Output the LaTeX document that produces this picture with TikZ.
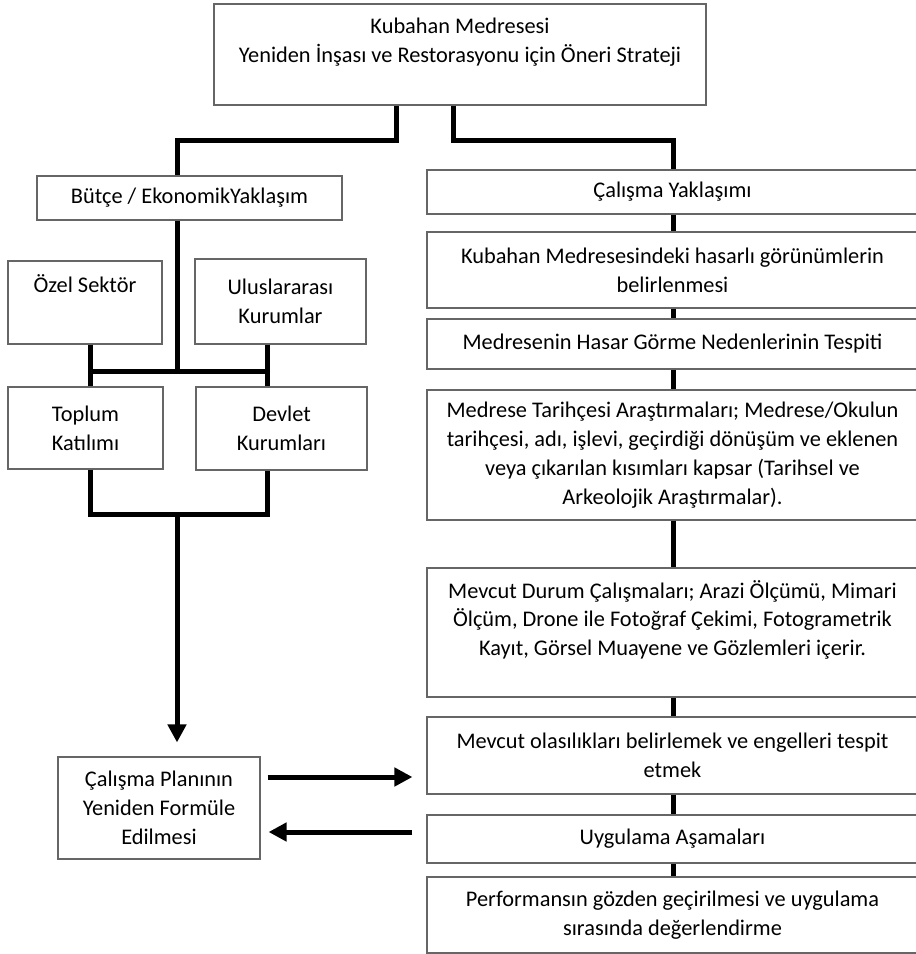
\documentclass[tikz,border=0pt]{standalone}
\usepackage{fontspec}
\setmainfont{Carlito}
\usetikzlibrary{arrows.meta}

\newcommand\boxfont{\fontsize{15.9}{20.6}\selectfont\lineskiplimit=-20pt\relax}

\tikzset{
  box/.style={draw=black!60, line width=0.8pt, align=center, inner sep=2pt,
    font=\boxfont},
  col/.style={box, minimum width=122.75mm},
  link/.style={line width=1.25mm},
  flow/.style={line width=1.25mm, -{Triangle[length=4.5mm,width=4.5mm]}},
}

\begin{document}
\begin{tikzpicture}[x=0.25mm, y=-0.25mm]
  \path[use as bounding box, clip] (0,0) rectangle (916,954);

  % title
  \node at (460,54.5) [box, minimum width=123mm, minimum height=25.25mm] (top) {Kubahan Medresesi\\Yeniden İnşası ve Restorasyonu için Öneri Strateji\\\mbox{}};

  % left side: budget
  \node at (189.5,198) [box, minimum width=76.25mm, minimum height=11mm] (butce) {Bütçe / EkonomikYaklaşım};
  \node at (85,302.5) [box, minimum width=38.5mm, minimum height=20.75mm] (ozel) {Özel Sektör\\[7pt]\mbox{}};
  \node at (280.5,301.5) [box, minimum width=42.75mm, minimum height=21.25mm] (ulus) {Uluslararası\\Kurumlar};
  \node at (85.5,428) [box, minimum width=38.75mm, minimum height=20.5mm] (toplum) {Toplum\\Katılımı};
  \node at (281.5,428.5) [box, minimum width=42.75mm, minimum height=20.75mm] (devlet) {Devlet\\Kurumları};
  \node at (159,808) [box, minimum width=50.5mm, minimum height=25.5mm] (plan) {Çalışma Planının\\Yeniden Formüle\\Edilmesi};

  % right side: work approach
  \node at (672.5,192) [col, minimum height=11mm] (yak) {Çalışma Yaklaşımı};
  \node at (672.5,270) [col, minimum height=19mm] (hasar) {Kubahan Medresesindeki hasarlı görünümlerin\\belirlenmesi};
  \node at (672.5,344) [col, minimum height=12.5mm] (neden) {Medresenin Hasar Görme Nedenlerinin Tespiti};
  \node at (672.5,455) [col, minimum height=32.5mm] (tarih) {Medrese Tarihçesi Araştırmaları; Medrese/Okulun\\tarihçesi, adı, işlevi, geçirdiği dönüşüm ve eklenen\\veya çıkarılan kısımları kapsar (Tarihsel ve\\Arkeolojik Araştırmalar).};
  \node at (672.5,632.5) [col, minimum height=32.25mm] (durum) {Mevcut Durum Çalışmaları; Arazi Ölçümü, Mimari\\Ölçüm, Drone ile Fotoğraf Çekimi, Fotogrametrik\\Kayıt, Görsel Muayene ve Gözlemleri içerir.\\\mbox{}};
  \node at (672.5,755.5) [col, minimum height=19.25mm] (olas) {Mevcut olasılıkları belirlemek ve engelleri tespit\\etmek};
  \node at (672.5,839) [col, minimum height=12mm] (uyg) {Uygulama Aşamaları};
  \node at (672.5,915) [col, minimum height=19mm] (perf) {Performansın gözden geçirilmesi ve uygulama\\sırasında değerlendirme};

  % junction points
  \coordinate (tL) at (396,140);
  \coordinate (tR) at (453,140);
  \coordinate (bx) at (177,0);
  \coordinate (rx) at (673,0);
  \coordinate (cx1) at (90,371);
  \coordinate (cx2) at (267,371);
  \coordinate (k1) at (90,514);
  \coordinate (k2) at (267,514);
  \coordinate (k0) at (177,514);
  \coordinate (r1) at (0,777);
  \coordinate (r2) at (0,832);

  \draw[link] (top.south -| tL) -- (tL) -| (butce.north -| bx);
  \draw[link] (top.south -| tR) -- (tR) -| (yak.north -| rx);
  \draw[link] (butce.south -| bx) -- (bx |- cx1);
  \draw[link] (cx1) -- (cx2);
  \draw[link] (ozel.south -| cx1) -- (toplum.north -| cx1);
  \draw[link] (ulus.south -| cx2) -- (devlet.north -| cx2);
  \draw[link] (toplum.south -| k1) -- (k1) -- (k2) -- (devlet.south -| k2);
  \draw[flow, shorten >=3.5mm] (k0) -- (plan.north -| k0);
  \draw[flow, shorten <=1.75mm, shorten >=3.5mm] (plan.east |- r1) -- (olas.west |- r1);
  \draw[flow, shorten <=3.5mm, shorten >=2mm] (uyg.west |- r2) -- (plan.east |- r2);

  \foreach \a/\b in {yak/hasar, hasar/neden, neden/tarih, tarih/durum, durum/olas, olas/uyg, uyg/perf}
    \draw[link] (\a.south -| rx) -- (\b.north -| rx);
\end{tikzpicture}
\end{document}
